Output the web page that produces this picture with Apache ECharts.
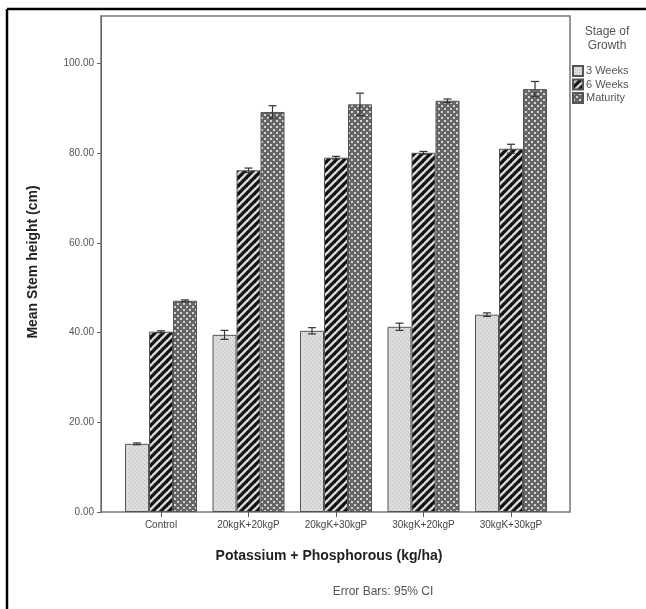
<!DOCTYPE html>
<html>
<head>
<meta charset="utf-8">
<script src="https://cdn.jsdelivr.net/npm/echarts@6/dist/echarts.min.js"></script>
<style>
  html, body { margin: 0; padding: 0; background: #fff; }
  #chart { width: 646px; height: 609px; }
</style>
</head>
<body>
<div id="chart"></div>
<script>
// Treatment groups along the x axis
const categories = ['Control', '20kgK+20kgP', '20kgK+30kgP', '30kgK+20kgP', '30kgK+30kgP'];
// Growth stages (legend)
const stages = ['3 Weeks', '6 Weeks', 'Maturity'];
// Mean stem height (cm) per stage
const weeks3 = [15.2, 39.5, 40.4, 41.3, 44.0];
const weeks6 = [40.2, 76.2, 79.0, 80.1, 81.0];
const maturity = [47.1, 89.2, 90.9, 91.7, 94.3];
// Half-width of the 95% confidence interval
const ci3 = [0.2, 1.0, 0.7, 0.8, 0.4];
const ci6 = [0.2, 0.5, 0.3, 0.3, 1.0];
const ciM = [0.2, 1.4, 2.5, 0.4, 1.7];
// Y-axis tick values
const yTicks = [0, 20, 40, 60, 80, 100];

function makeTile(size, draw) {
  const c = document.createElement('canvas');
  c.width = size; c.height = size;
  draw(c.getContext('2d'), size);
  return { image: c, repeat: 'repeat' };
}
// light dotted fill
const fill3 = makeTile(4, (g, s) => {
  g.fillStyle = '#dcdcdc'; g.fillRect(0, 0, s, s);
  g.fillStyle = '#bdbdbd'; g.fillRect(0, 0, 1, 1); g.fillRect(2, 2, 1, 1);
});
// black diagonal stripes
const fill6 = makeTile(8, (g, s) => {
  g.fillStyle = '#d8d8d8'; g.fillRect(0, 0, s, s);
  g.strokeStyle = '#111'; g.lineWidth = 3.2;
  for (let k = -1; k <= 1; k++) {
    g.beginPath(); g.moveTo(k * s - 1, s + 1); g.lineTo(k * s + s + 1, -1); g.stroke();
  }
});
// gray checkered dots
const fillM = makeTile(6, (g, s) => {
  g.fillStyle = '#666'; g.fillRect(0, 0, s, s);
  g.fillStyle = '#d4d4d4'; g.fillRect(0, 0, 2, 2); g.fillRect(3, 3, 2, 2);
});

const fills = [fill3, fill6, fillM];
const means = [weeks3, weeks6, maturity];
const cis = [ci3, ci6, ciM];
const BAR_W = 24;

const series = stages.map((name, s) => ({
  name, type: 'bar', xAxisIndex: 1, yAxisIndex: 1,
  barWidth: BAR_W, barGap: '0%',
  itemStyle: { color: fills[s], borderColor: '#555', borderWidth: 1 },
  data: means[s]
}));

stages.forEach((name, s) => {
  series.push({
    type: 'custom', xAxisIndex: 1, yAxisIndex: 1, z: 5,
    data: means[s].map((m, i) => [i, m - cis[s][i], m + cis[s][i]]),
    renderItem: (params, api) => {
      const lo = api.coord([api.value(0), api.value(1)]);
      const hi = api.coord([api.value(0), api.value(2)]);
      const x = lo[0] + (s - 1) * BAR_W;
      const cap = 4;
      const st = { stroke: '#333', lineWidth: 1.2 };
      return { type: 'group', children: [
        { type: 'line', shape: { x1: x, y1: lo[1], x2: x, y2: hi[1] }, style: st },
        { type: 'line', shape: { x1: x - cap, y1: hi[1], x2: x + cap, y2: hi[1] }, style: st },
        { type: 'line', shape: { x1: x - cap, y1: lo[1], x2: x + cap, y2: lo[1] }, style: st }
      ] };
    }
  });
});

const FONT = '"Liberation Sans", Arial, sans-serif';
const YMAX = 110.6;

const option = {
  animation: false,
  textStyle: { fontFamily: FONT },
  grid: [
    { left: 101, top: 16, width: 469, bottom: 97, show: true, borderColor: '#777', borderWidth: 1.5 },
    { left: 117.25, top: 16, width: 437.5, bottom: 97 }
  ],
  xAxis: [
    { type: 'value', gridIndex: 0, show: false, min: 0, max: 1 },
    { type: 'category', gridIndex: 1, data: categories,
      axisLine: { show: false },
      axisTick: { show: true, alignWithLabel: true, length: 5, lineStyle: { color: '#555' } },
      axisLabel: { color: '#444', fontSize: 10, margin: 8, fontFamily: FONT } }
  ],
  yAxis: [
    { type: 'value', gridIndex: 0, min: 0, max: YMAX,
      axisLine: { show: true, lineStyle: { color: '#666' } },
      axisTick: { show: true, length: 4, customValues: yTicks, lineStyle: { color: '#666' } },
      axisLabel: { customValues: yTicks, color: '#555', fontSize: 10, margin: 7,
        formatter: v => v.toFixed(2), fontFamily: FONT },
      splitLine: { show: false } },
    { type: 'value', gridIndex: 1, min: 0, max: YMAX, show: false, splitLine: { show: false } }
  ],
  legend: {
    data: stages, orient: 'vertical', left: 567, top: 60,
    itemWidth: 10, itemHeight: 10, itemGap: 1.5, icon: 'rect',
    textStyle: { color: '#555', fontSize: 11, lineHeight: 11, padding: [0, 0, 0, -2], fontFamily: FONT }
  },
  graphic: [
    { type: 'line', shape: { x1: 7, y1: 9, x2: 646, y2: 9 }, style: { stroke: '#000', lineWidth: 2.5 } },
    { type: 'line', shape: { x1: 7, y1: 9, x2: 7, y2: 609 }, style: { stroke: '#000', lineWidth: 2.5 } },
    { type: 'text', x: 607, y: 32, style: { text: 'Stage of', fill: '#555', font: '12px ' + FONT, textAlign: 'center', textVerticalAlign: 'middle' } },
    { type: 'text', x: 607, y: 46, style: { text: 'Growth', fill: '#555', font: '12px ' + FONT, textAlign: 'center', textVerticalAlign: 'middle' } },
    { type: 'text', x: 33, y: 262, rotation: Math.PI / 2,
      style: { text: 'Mean Stem height (cm)', fill: '#222', font: 'bold 14px ' + FONT, textAlign: 'center', textVerticalAlign: 'middle' } },
    { type: 'text', x: 329, y: 556,
      style: { text: 'Potassium + Phosphorous (kg/ha)', fill: '#222', font: 'bold 14px ' + FONT, textAlign: 'center', textVerticalAlign: 'middle' } },
    { type: 'text', x: 383, y: 592,
      style: { text: 'Error Bars: 95% CI', fill: '#555', font: '12px ' + FONT, textAlign: 'center', textVerticalAlign: 'middle' } }
  ],
  series
};

const chart = echarts.init(document.getElementById('chart'), null, { renderer: 'canvas' });
chart.setOption(option);
</script>
</body>
</html>
